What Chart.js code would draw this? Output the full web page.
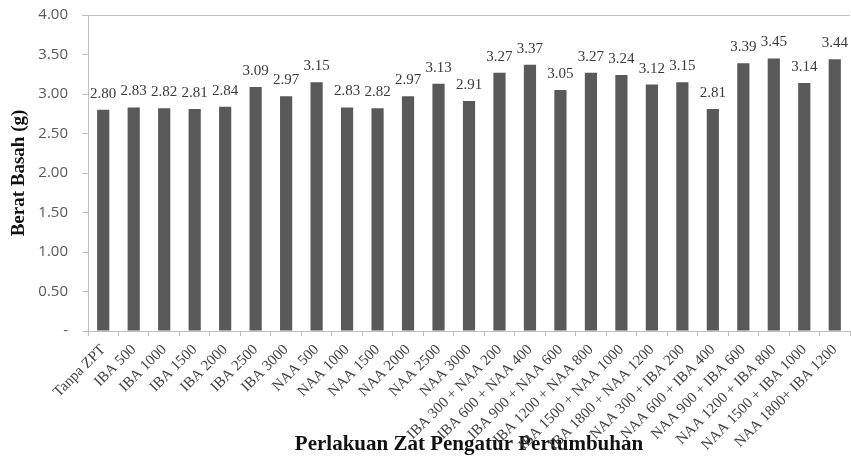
<!DOCTYPE html>
<html>
<head>
<meta charset="utf-8">
<script src="https://cdn.jsdelivr.net/npm/chart.js@4.4.1/dist/chart.umd.min.js"></script>
<style>
html,body{margin:0;padding:0;background:#fff;}
#wrap{width:851px;height:457px;}
</style>
</head>
<body>
<div id="wrap"><canvas id="c" width="851" height="457"></canvas></div>
<script>
const categories = [
  "Tanpa ZPT", "IBA 500", "IBA 1000", "IBA 1500", "IBA 2000", "IBA 2500", "IBA 3000",
  "NAA 500", "NAA 1000", "NAA 1500", "NAA 2000", "NAA 2500", "NAA 3000",
  "IBA 300 + NAA 200", "IBA 600 + NAA 400", "IBA 900 + NAA 600", "IBA 1200 + NAA 800",
  "IBA 1500 + NAA 1000", "IBA 1800 + NAA 1200",
  "NAA 300 + IBA 200", "NAA 600 + IBA 400", "NAA 900 + IBA 600", "NAA 1200 + IBA 800",
  "NAA 1500 + IBA 1000", "NAA 1800+ IBA 1200"
];
const beratBasah = [
  2.80, 2.83, 2.82, 2.81, 2.84, 3.09, 2.97,
  3.15, 2.83, 2.82, 2.97, 3.13, 2.91,
  3.27, 3.37, 3.05, 3.27, 3.24, 3.12,
  3.15, 2.81, 3.39, 3.45, 3.14, 3.44
];
const yTicks = [0, 0.5, 1.0, 1.5, 2.0, 2.5, 3.0, 3.5, 4.0];
const yTitle = "Berat Basah (g)";
const xTitle = "Perlakuan Zat Pengatur Pertumbuhan";

const borderGrey = "#bfbfbf";

const valueLabels = {
  id: "valueLabels",
  afterDatasetsDraw(chart) {
    const ctx = chart.ctx;
    const meta = chart.getDatasetMeta(0);
    ctx.save();
    ctx.font = "15px 'Liberation Serif', 'Times New Roman', serif";
    ctx.fillStyle = "#3a3a3a";
    ctx.textAlign = "center";
    ctx.textBaseline = "alphabetic";
    meta.data.forEach((bar, i) => {
      ctx.fillText(beratBasah[i].toFixed(2), bar.x, bar.y - 12);
    });
    ctx.restore();
  }
};

new Chart(document.getElementById("c"), {
  type: "bar",
  data: {
    labels: categories,
    datasets: [{
      data: beratBasah,
      backgroundColor: "#595959",
      borderWidth: 0,
      barPercentage: 0.4,
      categoryPercentage: 1.0
    }]
  },
  options: {
    responsive: false,
    animation: false,
    devicePixelRatio: 1,
    layout: { padding: { top: 15, right: 1, bottom: 0, left: 0 } },
    plugins: { legend: { display: false }, tooltip: { enabled: false } },
    scales: {
      x: {
        afterFit(scale) { scale.height = 126; scale.paddingLeft = 0; scale.paddingRight = 0; },
        grid: {
          offset: true,
          drawOnChartArea: true,
          color: (c) => (c.index === categories.length ? borderGrey : "rgba(0,0,0,0)"),
          tickColor: borderGrey,
          tickLength: 5,
          lineWidth: 1
        },
        border: { display: true, color: borderGrey, width: 1 },
        ticks: {
          autoSkip: false,
          maxRotation: 45,
          minRotation: 45,
          padding: 5,
          color: "#404040",
          font: { family: "'Liberation Serif', 'Times New Roman', serif", size: 15 }
        },
        title: {
          display: true,
          text: xTitle,
          color: "#111",
          font: { family: "'Liberation Serif', 'Times New Roman', serif", size: 21, weight: "bold" },
          padding: { top: -80, bottom: 0 }
        }
      },
      y: {
        min: 0,
        max: 4,
        afterFit(scale) { scale.width = 88; scale.paddingTop = 0; scale.paddingBottom = 0; },
        afterBuildTicks(scale) { scale.ticks = yTicks.map(v => ({ value: v })); },
        grid: {
          drawOnChartArea: true,
          color: (c) => (c.tick && c.tick.value === 4 ? borderGrey : "rgba(0,0,0,0)"),
          tickColor: borderGrey,
          tickLength: 6,
          lineWidth: 1
        },
        border: { display: true, color: borderGrey, width: 1 },
        ticks: {
          padding: 14,
          color: "#595959",
          font: { family: "'Open Sans', 'Liberation Sans', sans-serif", size: 15 },
          callback: (v) => (v === 0 ? "-" : Number(v).toFixed(2))
        },
        title: {
          display: true,
          text: yTitle,
          color: "#111",
          font: { family: "'Liberation Serif', 'Times New Roman', serif", size: 19, weight: "bold" },
          padding: { top: 8, bottom: 0 }
        }
      }
    }
  },
  plugins: [valueLabels]
});
</script>
</body>
</html>
